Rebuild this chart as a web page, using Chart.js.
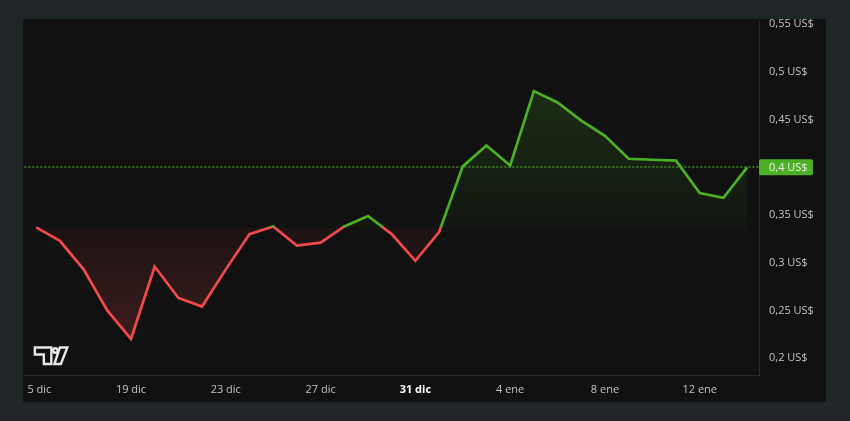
<!DOCTYPE html>
<html>
<head>
<meta charset="utf-8">
<script src="https://cdn.jsdelivr.net/npm/chart.js@4.4.1/dist/chart.umd.min.js"></script>
<style>
  html, body { margin: 0; padding: 0; background: #212628; }
  body { width: 850px; height: 421px; position: relative; overflow: hidden; }
  #panel { position: absolute; left: 23px; top: 19px; width: 803px; height: 383px; background: #111111; }
  canvas { display: block; }
</style>
</head>
<body>
<div id="panel"><canvas id="chart" width="803" height="383"></canvas></div>
<script>
// daily closes, 15 dic -> 14 ene
const dates = [
  '15 dic', '16 dic', '17 dic', '18 dic', '19 dic', '20 dic', '21 dic', '22 dic',
  '23 dic', '24 dic', '25 dic', '26 dic', '27 dic', '28 dic', '29 dic', '30 dic',
  '31 dic', '1 ene', '2 ene', '3 ene', '4 ene', '5 ene', '6 ene', '7 ene',
  '8 ene', '9 ene', '10 ene', '11 ene', '12 ene', '13 ene', '14 ene'
];
const prices = [
  0.337, 0.323, 0.293, 0.250, 0.220, 0.296, 0.263, 0.254,
  0.293, 0.330, 0.338, 0.318, 0.321, 0.338, 0.349, 0.330,
  0.302, 0.332, 0.401, 0.423, 0.402, 0.480, 0.468, 0.449,
  0.433, 0.409, 0.408, 0.407, 0.373, 0.368, 0.400
];
const priceTicks = [0.2, 0.25, 0.3, 0.35, 0.4, 0.45, 0.5, 0.55];
const shownDates = ['15 dic', '19 dic', '23 dic', '27 dic', '31 dic', '4 ene', '8 ene', '12 ene'];
const yearEnd = '31 dic';

const baseline = prices[0];
const lastPrice = prices[prices.length - 1];

const GREEN = '#4cb025';
const RED = '#f04a4d';
const PANEL = '#111111';
const LABEL = '#c2c2c2';
const FONT = 'Open Sans';

const usd = v => String(+v.toFixed(2)).replace('.', ',') + ' US$';

// dotted line at the last price, under the series
const lastLine = {
  id: 'lastLine',
  beforeDatasetsDraw(chart) {
    const { ctx, chartArea, scales } = chart;
    const y = Math.round(scales.y.getPixelForValue(lastPrice));
    ctx.save();
    ctx.strokeStyle = 'rgba(76,176,37,0.8)';
    ctx.lineWidth = 1.6;
    ctx.setLineDash([2, 2]);
    ctx.beginPath();
    ctx.moveTo(chartArea.left, y);
    ctx.lineTo(chartArea.right, y);
    ctx.stroke();
    ctx.restore();
  }
};

// price badge on the axis + watermark logo
const overlay = {
  id: 'overlay',
  afterDraw(chart) {
    const { ctx, chartArea, scales } = chart;
    const y = scales.y.getPixelForValue(lastPrice);
    ctx.save();

    // the first date label runs off the panel's left edge
    ctx.fillStyle = PANEL;
    ctx.fillRect(0, chartArea.bottom + 1, 3, chart.height - chartArea.bottom);

    ctx.fillStyle = GREEN;
    ctx.beginPath();
    ctx.roundRect(chartArea.right, y - 8, 54, 16, 2);
    ctx.fill();
    ctx.fillStyle = '#eaf6e4';
    ctx.font = '11px "' + FONT + '"';
    ctx.textBaseline = 'middle';
    ctx.textAlign = 'left';
    ctx.fillText(usd(lastPrice), chartArea.right + 10, y + 0.5);

    // logo
    const ox = chartArea.left + 10.5, oy = chartArea.bottom - 27.5;
    ctx.strokeStyle = '#e8e8e8';
    ctx.fillStyle = PANEL;
    ctx.lineWidth = 2.4;
    ctx.lineJoin = 'miter';
    ctx.beginPath();
    ctx.moveTo(ox, oy);
    ctx.lineTo(ox + 16.5, oy);
    ctx.lineTo(ox + 16.5, oy + 16.5);
    ctx.lineTo(ox + 9, oy + 16.5);
    ctx.lineTo(ox + 9, oy + 7);
    ctx.lineTo(ox, oy + 7);
    ctx.closePath();
    ctx.fill();
    ctx.stroke();
    ctx.beginPath();
    ctx.arc(ox + 20.5, oy + 3, 2.3, 0, Math.PI * 2);
    ctx.fill();
    ctx.stroke();
    ctx.beginPath();
    ctx.moveTo(ox + 25, oy);
    ctx.lineTo(ox + 32.5, oy);
    ctx.lineTo(ox + 26, oy + 16.5);
    ctx.lineTo(ox + 19.5, oy + 16.5);
    ctx.closePath();
    ctx.fill();
    ctx.stroke();
    ctx.restore();
  }
};

const ctx = document.getElementById('chart').getContext('2d');
const chart = new Chart(ctx, {
  type: 'line',
  data: {
    labels: dates,
    datasets: [{
      data: prices,
      borderColor: GREEN,
      borderWidth: 2.7,
      pointRadius: 0,
      tension: 0,
      fill: false
    }]
  },
  options: {
    responsive: false,
    animation: false,
    layout: { padding: 0 },
    plugins: { legend: { display: false }, tooltip: { enabled: false } },
    scales: {
      x: {
        type: 'category',
        offset: true,
        grid: { display: false, drawTicks: false },
        border: { display: true, color: '#2a2a2a' },
        ticks: {
          autoSkip: false,
          maxRotation: 0,
          padding: 8,
          color: c => dates[c.index] === yearEnd ? '#ffffff' : LABEL,
          font: c => ({ family: FONT, size: 11, weight: dates[c.index] === yearEnd ? 'bold' : 'normal' }),
          callback: function (value) {
            const label = this.getLabelForValue(value);
            return shownDates.includes(label) ? label : '';
          }
        },
        afterFit: s => { s.height = 27; s.paddingLeft = 0; s.paddingRight = 0; }
      },
      y: {
        position: 'right',
        min: 0.1822,
        max: 0.5542,
        grid: { display: false, drawTicks: false },
        border: { display: true, color: '#2a2a2a' },
        ticks: {
          padding: 10,
          color: LABEL,
          font: { family: FONT, size: 11 },
          callback: v => usd(v)
        },
        afterBuildTicks: s => { s.ticks = priceTicks.map(v => ({ value: v })); },
        afterFit: s => { s.width = 67; s.paddingTop = 0; s.paddingBottom = 0; }
      }
    }
  },
  plugins: [lastLine, overlay]
});

// baseline colouring: green above the first close, red below
const area = chart.chartArea;
const yScale = chart.scales.y;
const yBase = yScale.getPixelForValue(baseline);
const split = (yBase - area.top) / (area.bottom - area.top);

const stroke = ctx.createLinearGradient(0, area.top, 0, area.bottom);
stroke.addColorStop(0, GREEN);
stroke.addColorStop(split, GREEN);
stroke.addColorStop(split, RED);
stroke.addColorStop(1, RED);

const up = ctx.createLinearGradient(0, yScale.getPixelForValue(Math.max(...prices)), 0, yBase);
up.addColorStop(0, 'rgba(76,176,37,0.18)');
up.addColorStop(1, 'rgba(76,176,37,0.04)');

const down = ctx.createLinearGradient(0, yBase, 0, yScale.getPixelForValue(Math.min(...prices)));
down.addColorStop(0, 'rgba(240,74,77,0.05)');
down.addColorStop(1, 'rgba(240,74,77,0.2)');

const ds = chart.data.datasets[0];
ds.borderColor = stroke;
ds.fill = { target: { value: baseline }, above: up, below: down };
chart.update('none');
</script>
</body>
</html>
